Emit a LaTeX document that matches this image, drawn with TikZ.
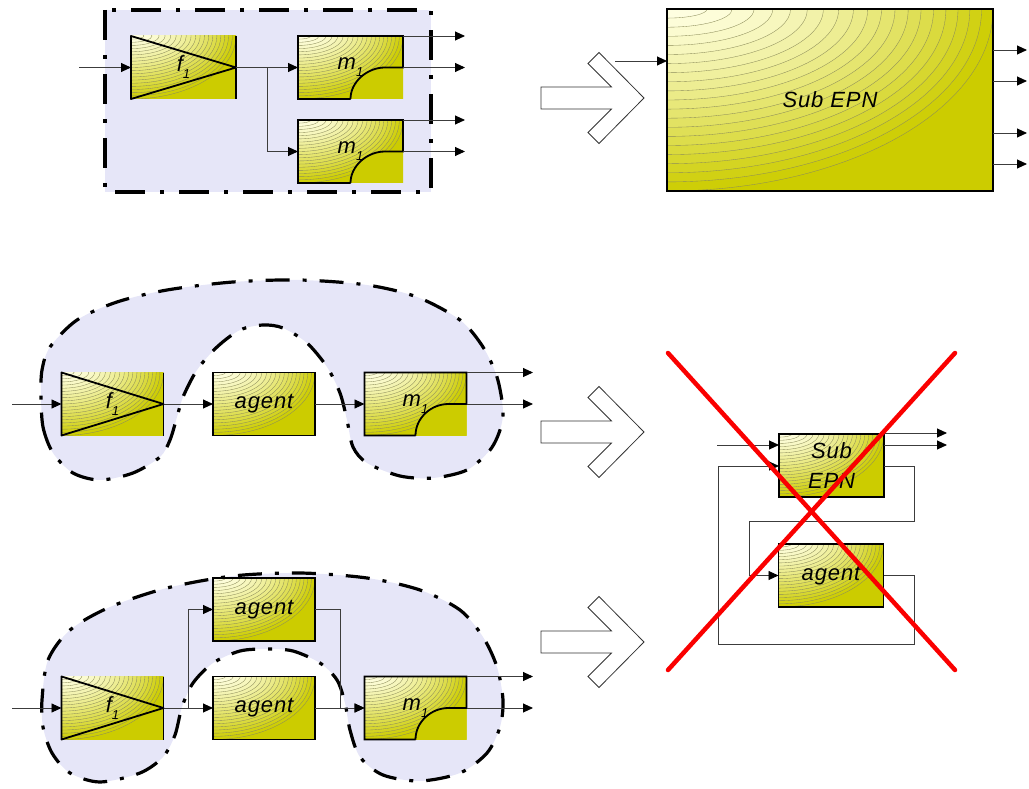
\documentclass[tikz,border=0pt]{standalone}
\usepackage{fontspec}
\newfontfamily\lbl[LetterSpace=4]{Liberation Sans}
\usetikzlibrary{arrows.meta,calc}
\definecolor{olivec}{RGB}{204,204,0}
\definecolor{lighty}{RGB}{255,255,226}
\definecolor{contourc}{RGB}{140,140,90}
\definecolor{lav}{RGB}{230,230,248}
\definecolor{xred}{RGB}{250,0,0}
\definecolor{wirec}{RGB}{60,60,60}
\newcommand\sub[1]{\raisebox{-7pt}{\fontsize{13}{13}\selectfont #1}}
\newcommand\epnshade[2]{%
  \fill[olivec] (path picture bounding box.south west) rectangle (path picture bounding box.north east);
  \foreach \i in {20,19,...,1}{%
    \pgfmathsetmacro\rx{#1*(\i/20)^0.7}%
    \pgfmathsetmacro\ry{#2*\i/20}%
    \pgfmathtruncatemacro\mx{100*((\i-0.5)/20)^1.2}%
    \filldraw[fill=olivec!\mx!lighty, draw=contourc, line width=0.35pt] (path picture bounding box.north west) ellipse [x radius=\rx, y radius=\ry];
  }}
\newcommand\mcut{%
  \fill[olivec] ($(path picture bounding box.east)+(-18,0)$) .. controls ($(path picture bounding box.east)+(-36,0)$) and ($(path picture bounding box.south)+(0,-17)$) .. (path picture bounding box.south) -- (path picture bounding box.south east) -- (path picture bounding box.east) -- cycle;}
\newcommand\mborder[1]{%
  \draw[boxline] (#1.south) -- (#1.south west) -- (#1.north west) -- (#1.north east) -- (#1.east) -- ($(#1.east)+(-18,0)$) .. controls ($(#1.east)+(-36,0)$) and ($(#1.south)+(0,-17)$) .. (#1.south);}
\newcommand\fborder[1]{%
  \draw[boxline, line join=round] (#1.north west) -- (#1.east) -- (#1.south west) -- cycle;
  \draw[boxline] (#1.north east) -- (#1.south east);}
\newcommand\hollowarrow[1]{%
  \draw[hollow] (541,#1-11) -- (611.5,#1-11) -- (588,#1-34.5) -- (599,#1-45.5) -- (644,#1) -- (599,#1+45.5) -- (588,#1+34.5) -- (611.5,#1+11) -- (541,#1+11) -- cycle;}
\tikzset{
  epn/.style 2 args={rectangle, inner sep=0pt, outer sep=0pt, minimum width=#1pt, minimum height=#2pt,
    path picture={\epnshade{#1}{#2}}, font=\lbl\itshape\fontsize{22}{30}\selectfont, text=black},
  mepn/.style 2 args={epn={#1}{#2}, path picture={\epnshade{#1}{#2}\mcut}},
  framed/.style={draw=black, line width=1.8pt},
  boxline/.style={draw=black, line width=1.8pt},
  wire/.style={draw=wirec, line width=0.9pt},
  arr/.style={wire, -{Triangle[length=10pt,width=9pt,color=black]}},
  dashbox/.style={draw=black, line width=3.5pt, dash pattern=on 30pt off 15pt on 4pt off 15pt, fill=lav},
  blob/.style={draw=black, line width=3.2pt, dash pattern=on 24pt off 13pt on 4pt off 13pt, fill=lav},
  hollow/.style={draw=black!80, line width=0.8pt, fill=white},
  cross/.style={draw=xred, line width=4.5pt, line cap=round},
}
\begin{document}
\begin{tikzpicture}[x=1pt,y=-1pt]
\useasboundingbox (0,0) rectangle (1029,789);
% ---------- top left ----------
\path[dashbox] (105,10) rectangle (431,192);
\node[epn={105}{63}] (fa) at (183.5,67.5) {f\sub{1}};
\node[mepn={105}{63}] (ma) at (350.5,67.5) {m\sub{1}};
\node[mepn={105}{63}] (mb) at (350.5,151.5) {m\sub{1}};
\fborder{fa}\mborder{ma}\mborder{mb}
\coordinate (ina) at (79,67.5);
\coordinate (xa) at (465,0);
\draw[arr] (ina) -- (fa.west);
\draw[arr] (fa.east) -- (ma.west);
\draw[arr] (fa.east) -- ++(31,0) |- (mb.west);
\draw[arr] (ma.north east) -- (ma.north east -| xa);
\draw[arr] (ma.east) -- (ma.east -| xa);
\draw[arr] (mb.north east) -- (mb.north east -| xa);
\draw[arr] (mb.east) -- (mb.east -| xa);
% ---------- top right ----------
\node[epn={326}{182}, framed] (sa) at (830,100) {Sub EPN};
\coordinate (insa) at (615,61);
\draw[arr] (insa) -- (insa -| sa.west);
\coordinate (so1) at (1027,50);
\coordinate (so2) at (1027,81);
\coordinate (so3) at (1027,133);
\coordinate (so4) at (1027,164);
\foreach \c in {so1,so2,so3,so4}{\draw[arr] (\c -| sa.east) -- (\c);}
% ---------- hollow arrows ----------
\hollowarrow{98}
\hollowarrow{432}
\hollowarrow{642}
% ---------- middle blob ----------
\path[blob] plot[smooth cycle, tension=0.5] coordinates {
 (41,395) (43,427) (53,453) (73,473) (100,480) (133,473) (160,457) (170,440) (177,417) (183,397)
 (197,370) (217,347) (240,330) (263,325) (283,328) (307,343) (327,367) (340,393) (347,420) (353,447)
 (367,463) (400,476) (433,478) (467,470) (490,450) (500,430) (503,410) (497,377) (483,347) (460,320)
 (417,297) (367,285) (300,280) (233,282) (167,290) (117,302) (77,320) (50,347) (42,370)};
\node[epn={102}{63}] (fc) at (112.5,404) {f\sub{1}};
\node[epn={102}{63}, framed] (ag1) at (264,404) {agent};
\node[mepn={102}{63}] (mc) at (415.5,404) {m\sub{1}};
\fborder{fc}\mborder{mc}
\coordinate (inc) at (12,404);
\coordinate (xc) at (533,0);
\draw[arr] (inc) -- (fc.west);
\draw[arr] (fc.east) -- (ag1.west);
\draw[arr] (ag1.east) -- (mc.west);
\draw[arr] (mc.north east) -- (mc.north east -| xc);
\draw[arr] (mc.east) -- (mc.east -| xc);
% ---------- bottom blob ----------
\path[blob] plot[smooth cycle, tension=0.5] coordinates {
 (42,700) (48,660) (70,630) (110,607) (167,588) (233,576) (300,573) (367,578) (420,590) (460,610)
 (483,637) (497,667) (503,700) (500,727) (487,753) (460,773) (420,781) (383,775) (360,757) (350,730)
 (345,703) (337,680) (320,663) (293,651) (267,649) (240,651) (213,663) (193,683) (182,707) (175,735)
 (163,757) (140,773) (100,782) (70,773) (52,753) (43,727)};
\node[epn={102}{63}] (fd) at (112.5,708) {f\sub{1}};
\node[epn={102}{63}, framed] (ag2) at (264,609.5) {agent};
\node[epn={102}{63}, framed] (ag3) at (264,708) {agent};
\node[mepn={102}{63}] (md) at (415.5,708) {m\sub{1}};
\fborder{fd}\mborder{md}
\coordinate (ind) at (12,708);
\draw[arr] (ind) -- (fd.west);
\draw[arr] (fd.east) -- (ag3.west);
\draw[arr] (fd.east) -- ++(25,0) |- (ag2.west);
\draw[arr] (ag2.east) -- ++(25,0) |- (md.west);
\draw[arr] (ag3.east) -- (md.west);
\draw[arr] (md.north east) -- (md.north east -| xc);
\draw[arr] (md.east) -- (md.east -| xc);
% ---------- crossed out ----------
\node[epn={105}{63}, framed, align=center] (sb) at (831.5,465.5) {Sub\\EPN};
\node[epn={105}{63}, framed] (ag4) at (831,575.5) {agent};
\coordinate (inb) at (717,445);
\draw[arr] (inb) -- (inb -| sb.west);
\coordinate (sbo1) at (947,433);
\coordinate (sbo2) at (947,445);
\draw[arr] (sbo1 -| sb.east) -- (sbo1);
\draw[arr] (sbo2 -| sb.east) -- (sbo2);
\coordinate (fbA) at (0,466);
\draw[arr] (sb.east |- fbA) -- ++(30,0) -- ++(0,55) -- ++(-165,0) |- (ag4.west);
\draw[arr] (ag4.east) -- ++(31,0) -- ++(0,68.5) -- ++(-196,0) |- (sb.west |- fbA);
\coordinate (x1) at (668,353);
\coordinate (x2) at (955,353);
\coordinate (x3) at (668,670);
\coordinate (x4) at (955,670);
\draw[cross] (x1) -- (x4);
\draw[cross] (x2) -- (x3);
\end{tikzpicture}
\end{document}
